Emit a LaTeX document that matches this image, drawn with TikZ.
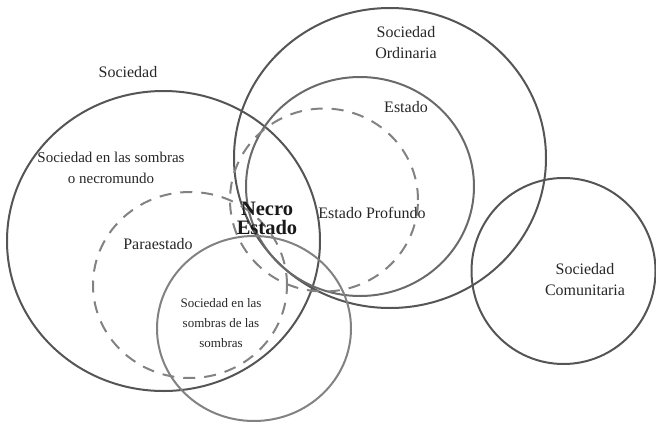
\documentclass[tikz,border=0pt]{standalone}
\usepackage{fontspec}
\setmainfont{Liberation Serif}
\usetikzlibrary{positioning}

\definecolor{darkring}{HTML}{555555}
\definecolor{midring}{HTML}{6A6A6A}
\definecolor{lightring}{HTML}{828282}

\begin{document}
\begin{tikzpicture}[
                x=1pt, y=-1pt,
                ring/.style={line width=2pt, draw=darkring},
                dashring/.style={line width=2pt, draw=lightring, dash pattern=on 12pt off 9pt},
                every node/.style={align=center, text=black!85, font=\fontsize{16}{21}\selectfont}
            ]
            \useasboundingbox (0,0) rectangle (656,423);

            % Define circles
            \draw[ring] (163.5,241) ellipse [x radius=156.5pt, y radius=150pt];
            \draw[ring] (390,158) ellipse [x radius=156pt, y radius=150pt];
            \draw[ring, draw=midring] (360,186.5) ellipse [x radius=114pt, y radius=109.5pt];
            \draw[dashring] (324,200) ellipse [x radius=94pt, y radius=91.5pt];
            \draw[dashring] (190,285) ellipse [x radius=97pt, y radius=93pt];
            \draw[ring, draw=lightring] (254,328.5) ellipse [x radius=97pt, y radius=92.5pt];
            \draw[ring] (563.5,271) ellipse [x radius=92pt, y radius=93pt];

            % Labels
            \node (soc) at (128,72) {Sociedad};
            \node[font=\fontsize{15}{21}\selectfont] (necromundo) at (111,167.5) {Sociedad en las sombras\\o necromundo};
            \node (ordinaria) at (406,42.5) {Sociedad\\Ordinaria};
            \node (estado) at (406,107) {Estado};
            \node (profundo) at (372,213) {Estado Profundo};
            \node[font=\fontsize{20.5}{19}\selectfont\bfseries, text=black!90] (necro) at (267,218.5) {Necro\\Estado};
            \node (para) at (158,244) {Paraestado};
            \node[font=\fontsize{13}{20}\selectfont] (sombras) at (221,323) {Sociedad en las\\sombras de las\\sombras};
            \node (comunitaria) at (585,280) {Sociedad\\Comunitaria};

        \end{tikzpicture}
\end{document}
